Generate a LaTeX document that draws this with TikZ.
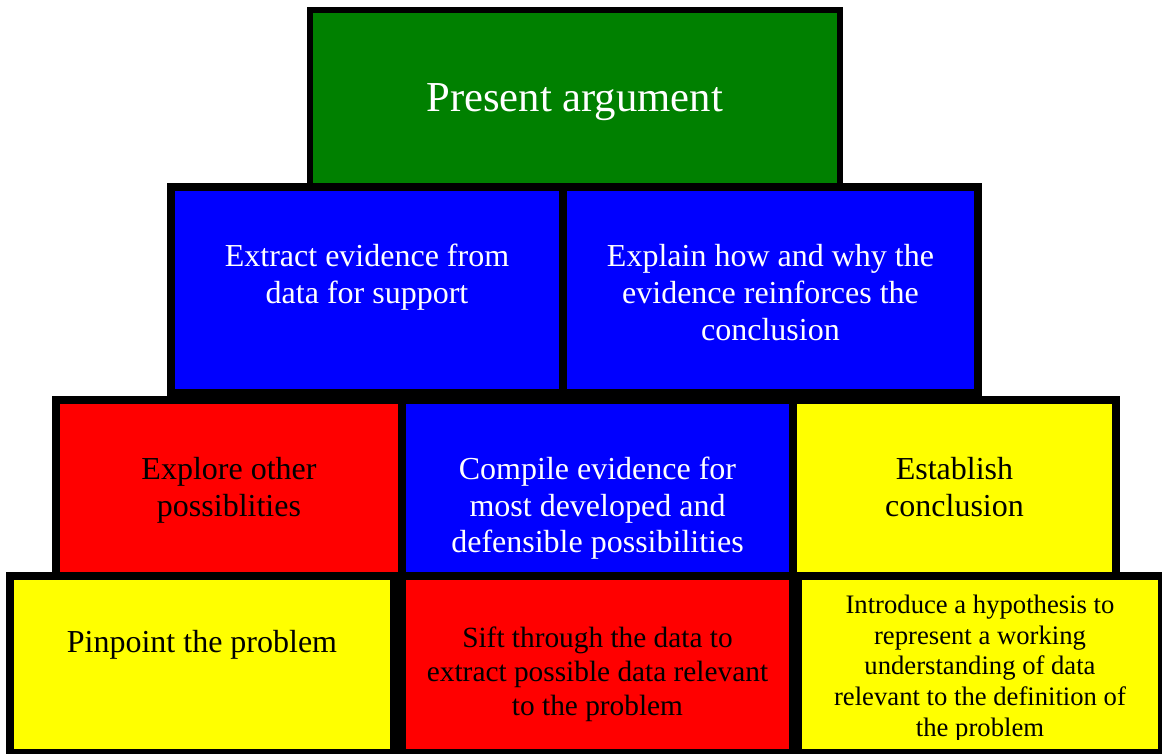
\documentclass[tikz,border=0pt]{standalone}
\usepackage{fontspec}
\setmainfont{Liberation Serif}
\usetikzlibrary{fit}

\definecolor{cgreen}{RGB}{0,128,0}
\definecolor{cblue}{RGB}{0,0,255}
\definecolor{cred}{RGB}{255,0,0}
\definecolor{cyellow}{RGB}{255,255,0}

% centred block of lines whose baseline is the first line's baseline
\newcommand\cellstack[1]{\begin{tabular}[t]{@{}c@{}}#1\end{tabular}}

\tikzset{
  cell/.style={draw=black, line width=8pt, inner sep=0pt, rectangle},
  topcell/.style={cell, line width=6pt},
  label/.style={anchor=base, inner sep=0pt},
  huge/.style={label, font=\fontsize{42.67}{49}\selectfont},
  big/.style={label, font=\fontsize{32}{36.8}\selectfont},
  mid/.style={label, font=\fontsize{29.33}{33.7}\selectfont},
  small/.style={label, font=\fontsize{26.67}{30.7}\selectfont},
}

\begin{document}
\begin{tikzpicture}[x=1pt, y=-1pt]
\useasboundingbox (0,0) rectangle (1162,753);

% top tier
\node[topcell, fill=cgreen, fit={(309.5,9.7) (839.7,186)}] (present) {};

% second tier
\node[cell, fill=cblue, fit={(171,187) (563,393)}] (extract) {};
\node[cell, fill=cblue, fit={(563,187) (978,393)}] (explain) {};

% third tier
\node[cell, fill=cred,    fit={(56,400) (402,576)}]   (explore) {};
\node[cell, fill=cblue,   fit={(402,400) (793,576)}]  (compile) {};
\node[cell, fill=cyellow, fit={(793,400) (1116,576)}] (establish) {};

% bottom tier
\node[cell, fill=cyellow, fit={(10,576) (394,753)}]   (pinpoint) {};
\node[cell, fill=cred,    fit={(402,576) (793,753)}]  (sift) {};
\node[cell, fill=cyellow, fit={(798,576) (1162,753)}] (introduce) {};

% texts
\node[huge, text=white] (presentT) at (574.6,111) {Present argument};

\node[big, text=white] (extractT) at (367,266.7)
  {\cellstack{Extract evidence from\\data for support}};
\node[big, text=white] (explainT) at (770.5,266.7)
  {\cellstack{Explain how and why the\\evidence reinforces the\\conclusion}};

\node[big, text=black] (exploreT) at (229,479.3)
  {\cellstack{Explore other\\possiblities}};
\node[big, text=white] (compileT) at (597.5,479.3)
  {\cellstack{Compile evidence for\\most developed and\\defensible possibilities}};
\node[big, text=black] (establishT) at (954.5,479.3)
  {\cellstack{Establish\\conclusion}};

\node[big, text=black] (pinpointT) at (202,652.7) {Pinpoint the problem};
\node[mid, text=black] (siftT) at (597.5,647.7)
  {\cellstack{Sift through the data to\\extract possible data relevant\\to the problem}};
\begin{scope}
  \clip (798,576) rectangle (1162,739);
  \node[small, text=black] (introduceT) at (980,613.3)
    {\cellstack{Introduce a hypothesis to\\represent a working\\understanding of data\\relevant to the definition of\\the problem}};
\end{scope}
\end{tikzpicture}
\end{document}
